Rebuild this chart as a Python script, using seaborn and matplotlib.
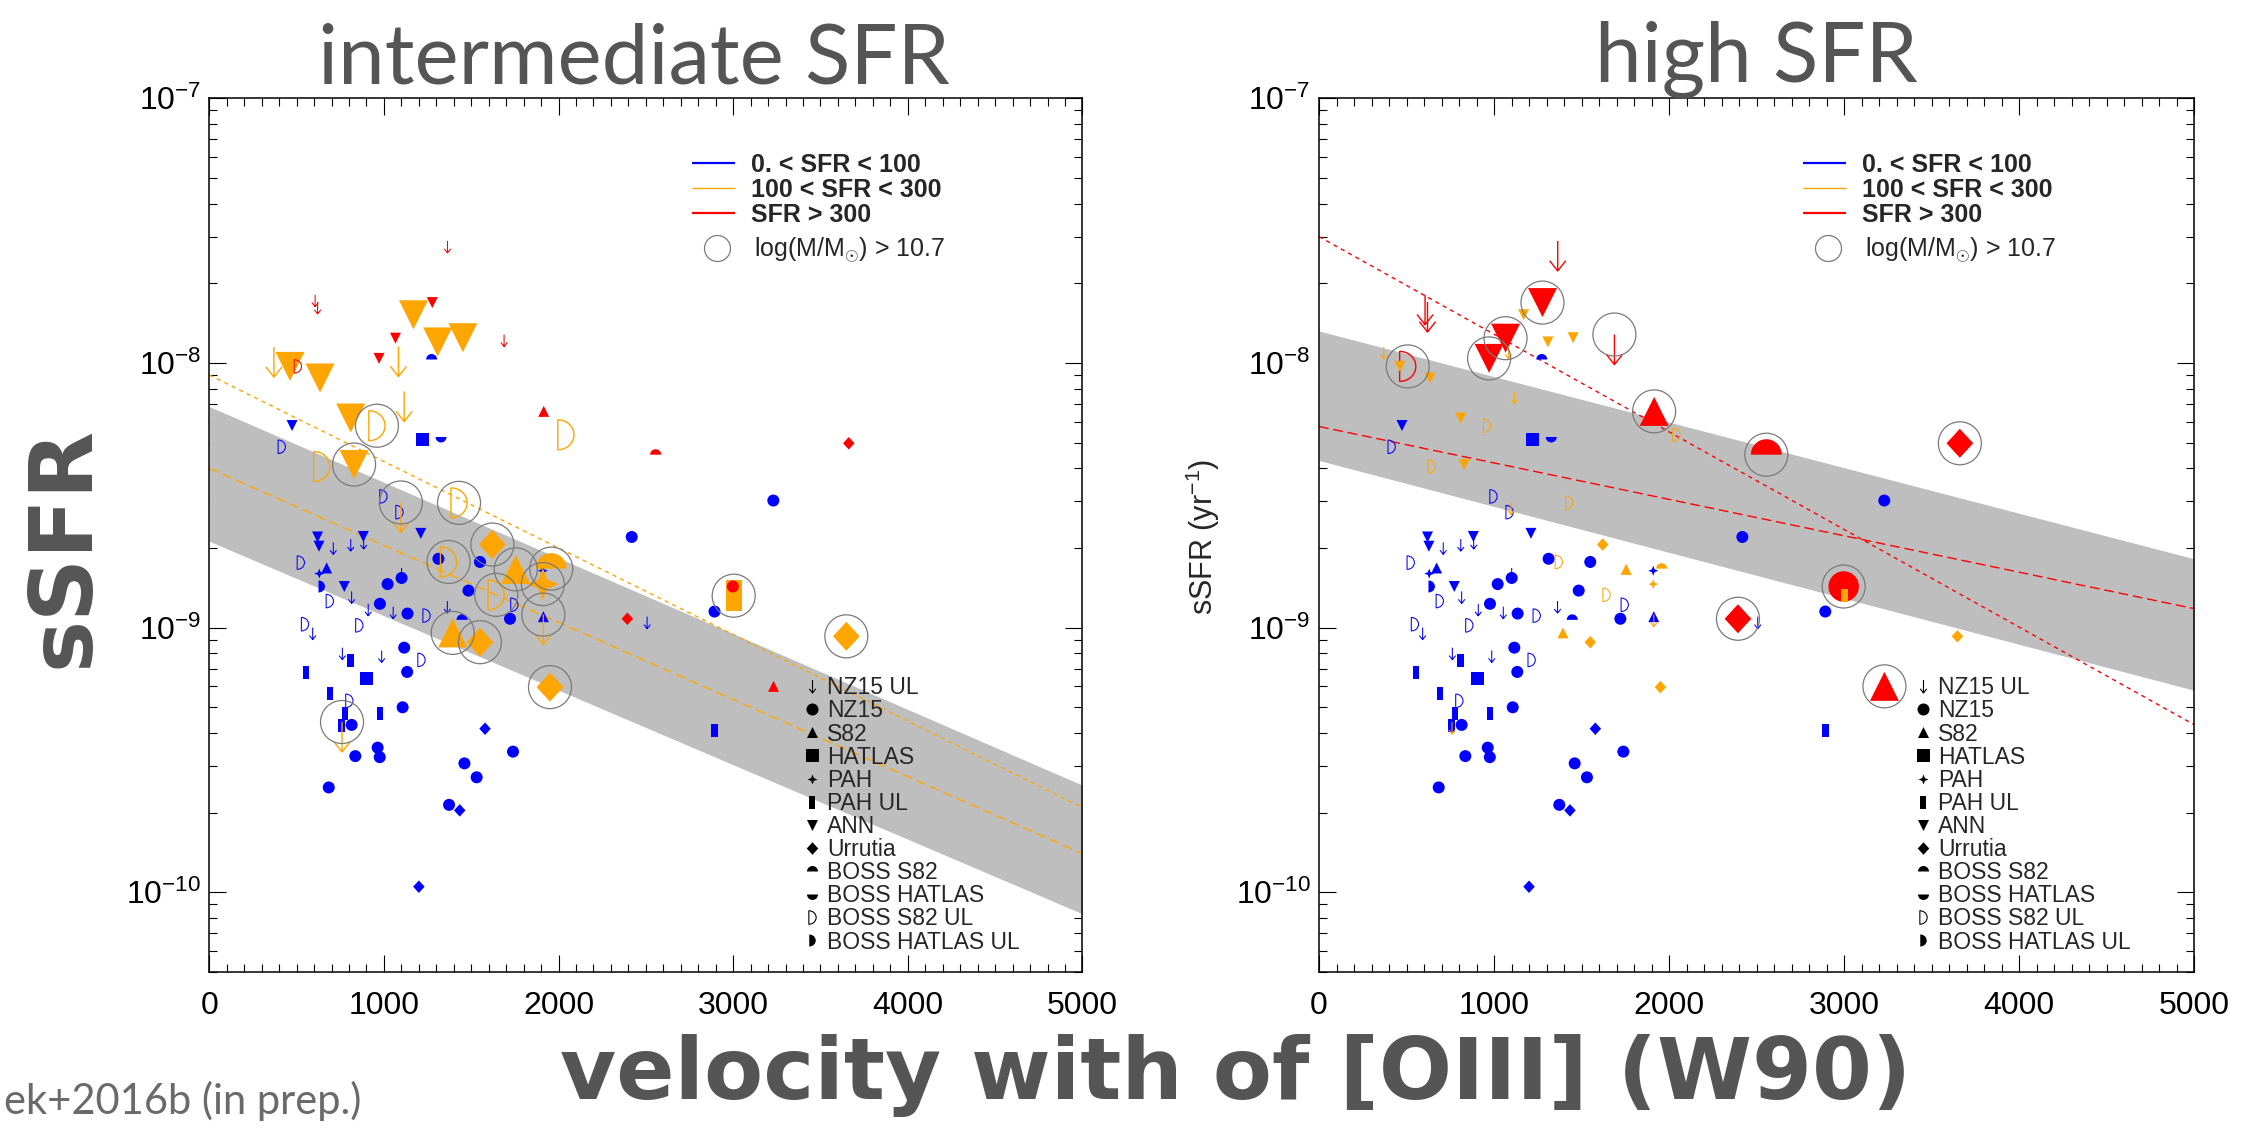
import numpy as np
import pandas as pd
import matplotlib
matplotlib.use("Agg")
import matplotlib.pyplot as plt
import seaborn as sns
from matplotlib.path import Path
from matplotlib.ticker import MultipleLocator, LogLocator, NullFormatter

# ------------------------------------------------------------------ data
# blue: 0 < SFR < 100 (same in both panels, always small)
blue_type = (["ANN"] * 6 + ["BOSSS82UL"] * 11 + ["HATLAS"] * 2 + ["BOSSS82"] * 2 +
             ["BOSSHATLAS"] + ["NZ15"] * 23 + ["NZ15UL"] * 12 + ["S82"] * 2 +
             ["PAH"] * 2 + ["BOSSHATLASUL"] + ["PAHUL"] * 7 + ["Urrutia"] * 3)
blue_w90 = [474, 620, 628, 882, 1211, 773,
            415, 997, 1089, 1747, 524, 690, 1244, 548, 859, 1215, 802,
            1222, 903,
            1273, 1447,
            1327,
            2419, 1312, 1550, 1484, 1722, 1021, 1101, 977, 1135, 1116, 1133, 1107,
            815, 964, 976, 836, 684, 1739, 1461, 1531, 1373, 2893, 3230,
            710, 810, 884, 815, 1101, 910, 1053, 1363, 592, 762, 987, 2507,
            672, 1913,
            630, 1910,
            644,
            810, 554, 691, 777, 977, 758, 2893,
            1579, 1434, 1200]
blue_ssfr = [5.8e-9, 2.2e-9, 2.03e-9, 2.21e-9, 2.27e-9, 1.43e-9,
             4.82e-9, 3.13e-9, 2.73e-9, 1.22e-9, 1.76e-9, 1.26e-9, 1.11e-9, 1.03e-9, 1.02e-9, 7.55e-10, 5.29e-10,
             5.13e-9, 6.42e-10,
             1.03e-8, 1.07e-9,
             5.25e-9,
             2.2e-9, 1.82e-9, 1.77e-9, 1.38e-9, 1.08e-9, 1.46e-9, 1.54e-9, 1.23e-9, 1.13e-9, 8.4e-10, 6.8e-10, 5.0e-10,
             4.29e-10, 3.52e-10, 3.24e-10, 3.27e-10, 2.49e-10, 3.4e-10, 3.07e-10, 2.72e-10, 2.14e-10, 1.15e-9, 3.02e-9,
             2.1e-9, 2.16e-9, 2.2e-9, 1.37e-9, 1.68e-9, 1.23e-9, 1.2e-9, 1.26e-9, 1.0e-9, 8.4e-10, 8.2e-10, 1.1e-9,
             1.68e-9, 1.1e-9,
             1.6e-9, 1.64e-9,
             1.43e-9,
             7.5e-10, 6.76e-10, 5.65e-10, 4.75e-10, 4.75e-10, 4.25e-10, 4.09e-10,
             4.15e-10, 2.04e-10, 1.05e-10]

# orange: 100 < SFR < 300
orange_type = ["NZ15UL", "ANN", "ANN", "ANN", "ANN", "ANN", "NZ15UL", "NZ15UL", "ANN", "ANN",
               "BOSSS82UL", "BOSSS82UL", "BOSSS82UL", "BOSSS82UL", "NZ15UL", "Urrutia", "BOSSS82UL",
               "S82", "BOSSS82", "PAH", "BOSSS82UL", "NZ15UL", "S82", "Urrutia", "Urrutia",
               "NZ15UL", "PAHUL", "Urrutia"]
orange_w90 = [370, 462, 634, 1169, 1308, 1452, 1083, 1116, 810, 829,
              960, 644, 2042, 1430, 1097, 1621, 1370,
              1755, 1958, 1910, 1643, 1913, 1394, 1550, 1951,
              760, 3003, 3648]
orange_ssfr = [1.148e-8, 9.7e-9, 8.77e-9, 1.52e-8, 1.20e-8, 1.245e-8, 1.153e-8, 7.8e-9, 6.19e-9, 4.13e-9,
               5.79e-9, 4.06e-9, 5.35e-9, 2.96e-9, 2.97e-9, 2.06e-9, 1.77e-9,
               1.66e-9, 1.67e-9, 1.46e-9, 1.33e-9, 1.12e-9, 9.55e-10, 8.81e-10, 5.96e-10,
               4.4e-10, 1.32e-9, 9.27e-10]
orange_massive = [0, 0, 0, 0, 0, 0, 0, 0, 0, 1,
                  1, 0, 0, 1, 1, 1, 1,
                  1, 1, 1, 1, 1, 1, 1, 1,
                  1, 1, 1]

# red: SFR > 300
red_type = ["NZ15UL", "NZ15UL", "NZ15UL", "ANN", "ANN", "ANN", "BOSSS82UL", "NZ15UL",
            "S82", "BOSSS82", "Urrutia", "NZ15", "Urrutia", "S82"]
red_w90 = [1364, 606, 620, 1277, 1066, 972, 507, 1688, 1915, 2556, 3662, 2998, 2394, 3231]
red_ssfr = [2.89e-8, 1.81e-8, 1.70e-8, 1.69e-8, 1.24e-8, 1.04e-8, 9.7e-9, 1.28e-8,
            6.56e-9, 4.5e-9, 4.97e-9, 1.43e-9, 1.08e-9, 6.0e-10]
red_massive = [0, 0, 0, 1, 1, 1, 1, 1, 1, 1, 1, 1, 1, 1]

# relations (end points at W90 = 0 and 5000)
fit_w90 = [0, 5000]
left_band_lo = [2.12e-9, 8.3e-11]
left_band_hi = [6.84e-9, 2.54e-10]
left_fit_upper = [9.0e-9, 2.09e-10]
left_fit_lower = [4.0e-9, 1.40e-10]
right_band_lo = [4.28e-9, 5.8e-10]
right_band_hi = [1.32e-8, 1.82e-9]
right_fit_steep = [3.0e-8, 4.3e-10]
right_fit_flat = [5.75e-9, 1.18e-9]

x_ticks = [0, 1000, 2000, 3000, 4000, 5000]
legend_sfr = ["0. < SFR < 100", "100 < SFR < 300", "SFR > 300"]
legend_types = ["NZ15UL", "NZ15", "S82", "HATLAS", "PAH", "PAHUL", "ANN", "Urrutia",
                "BOSSS82", "BOSSHATLAS", "BOSSS82UL", "BOSSHATLASUL"]
legend_names = ["NZ15 UL", "NZ15", "S82", "HATLAS", "PAH", "PAH UL", "ANN", "Urrutia",
                "BOSS S82", "BOSS HATLAS", "BOSS S82 UL", "BOSS HATLAS UL"]

# ------------------------------------------------------------------ style
sns.set_style("ticks")
plt.rcParams["font.family"] = ["Liberation Sans", "DejaVu Sans"]
plt.rcParams["mathtext.fontset"] = "custom"
plt.rcParams["mathtext.rm"] = "Liberation Sans"
plt.rcParams["mathtext.it"] = "Liberation Sans:italic"
plt.rcParams["mathtext.bf"] = "Liberation Sans:bold"
plt.rcParams["axes.edgecolor"] = "black"
plt.rcParams["xtick.color"] = "black"
plt.rcParams["ytick.color"] = "black"

BLUE, ORANGE, RED = "#0000ff", "#ffa500", "#ff0000"
GRAYTXT = "#555555"
PX = 0.72  # points per pixel at dpi 100

M, L, C = Path.MOVETO, Path.LINETO, Path.CLOSEPOLY


def closed(verts):
    return Path(verts + [verts[0]], [M] + [L] * (len(verts) - 1) + [C])


def arc_path(t1, t2, sx=1.0, dx=0.0):
    a = Path.arc(t1, t2)
    v = a.vertices.copy()
    v[:, 0] = v[:, 0] * sx + dx
    return Path(np.vstack([v, v[:1]]), np.concatenate([a.codes, [C]]))


ARROW_TOP = Path([(0, 0), (0, -1), (-0.27, -0.66), (0, -1), (0.27, -0.66)], [M, L, M, L, L])
ARROW_MID = Path([(0, 1), (0, -1), (-0.5, -0.36), (0, -1), (0.5, -0.36)], [M, L, M, L, L])
MARKERS = {
    "NZ15UL": ARROW_TOP,
    "NZ15": Path.unit_circle(),
    "S82": closed([(0, 1), (-1, -1), (1, -1)]),
    "HATLAS": closed([(-1, -1), (1, -1), (1, 1), (-1, 1)]),
    "PAH": closed([(0, 1), (0.28, 0.28), (1, 0), (0.28, -0.28), (0, -1), (-0.28, -0.28), (-1, 0), (-0.28, 0.28)]),
    "PAHUL": closed([(-0.52, -1), (0.52, -1), (0.52, 1), (-0.52, 1)]),
    "ANN": closed([(0, -1), (-1, 1), (1, 1)]),
    "Urrutia": closed([(0, 1), (0.92, 0), (0, -1), (-0.92, 0)]),
    "BOSSS82": arc_path(0, 180),
    "BOSSHATLAS": arc_path(180, 360),
    "BOSSS82UL": arc_path(-90, 90, 1.08, -0.54),
    "BOSSHATLASUL": arc_path(-90, 90, 1.08, -0.54),
}
LINE_ART = {"NZ15UL", "BOSSS82UL"}
SMALL_PX = dict(NZ15UL=24, NZ15=12, S82=11, HATLAS=13, PAH=10, PAHUL=13, ANN=11, Urrutia=12.5,
                BOSSS82=11, BOSSHATLAS=11, BOSSS82UL=13.5, BOSSHATLASUL=12)
BIG_PX = dict(NZ15UL=60, NZ15=30.5, S82=29, HATLAS=30, PAH=32, PAHUL=31, ANN=29, Urrutia=29,
              BOSSS82=31, BOSSHATLAS=31, BOSSS82UL=30, BOSSHATLASUL=30)


def draw_points(ax, xs, ys, types, color, size_map, lw, z):
    df = pd.DataFrame(dict(x=xs, y=ys, t=types))
    for t, g in df.groupby("t", sort=False):
        kw = dict(marker=MARKERS[t], s=(size_map[t] * PX) ** 2, color=color)
        if t in LINE_ART:
            kw.update(facecolor="none", edgecolor=color, linewidth=lw)
        else:
            kw.update(edgecolor="none", linewidth=0)
        sns.scatterplot(x=g["x"].to_numpy(), y=g["y"].to_numpy(), ax=ax, legend=False,
                        zorder=z, **kw)


def draw_rings(ax, xs, ys, massive):
    df = pd.DataFrame(dict(x=xs, y=ys, m=massive))
    df = df[df["m"] == 1]
    sns.scatterplot(x=df["x"].to_numpy(), y=df["y"].to_numpy(), ax=ax, legend=False,
                    marker="o", s=(43 * PX) ** 2, facecolor="none", edgecolor="#7a7a7a",
                    linewidth=0.9, color="#7a7a7a", zorder=6)


def setup_axes(ax):
    ax.set_xscale("linear")
    ax.set_yscale("log")
    ax.set_xlim(0, 5000)
    ax.set_ylim(5e-11, 1e-7)
    ax.set_xticks(x_ticks)
    ax.xaxis.set_minor_locator(MultipleLocator(100))
    ax.yaxis.set_major_locator(LogLocator(base=10, numticks=10))
    ax.yaxis.set_minor_locator(LogLocator(base=10, subs=np.arange(2, 10), numticks=40))
    ax.yaxis.set_minor_formatter(NullFormatter())
    ax.tick_params(which="both", direction="in", top=True, right=True, width=0.8, color="black")
    ax.tick_params(which="major", length=12.2)
    ax.tick_params(which="minor", length=6.1)
    ax.tick_params(axis="x", which="major", pad=14, labelsize=23)
    ax.tick_params(axis="y", which="major", pad=6, labelsize=23)
    for sp in ax.spines.values():
        sp.set_linewidth(1.1)
        sp.set_color("black")
    ax.set_xlabel("")
    ax.set_ylabel("")


def draw_legends(ax):
    tr = ax.transAxes
    rows = [0.9264, 0.8968, 0.8686]
    for lab, col, lw, yy in zip(legend_sfr, [BLUE, ORANGE, RED], [1.6, 1.0, 1.6], rows):
        ax.plot([0.5526, 0.6019], [yy, yy], color=col, lw=lw, transform=tr, solid_capstyle="butt")
        ax.text(0.620, yy - 0.0103, lab, transform=tr, fontsize=18, fontweight="bold",
                va="baseline", ha="left")
    ax.plot([0.5813], [0.8281], marker="o", ms=26 * PX, mfc="none", mec="#7a7a7a", mew=0.9,
            transform=tr, ls="none")
    ax.text(0.6239, 0.8281 - 0.0103, r"log(M/M$_{\odot}$) > 10.7", transform=tr, fontsize=18,
            va="baseline", ha="left")
    for i, (t, name) in enumerate(zip(legend_types, legend_names)):
        yy = 0.3271 - i * 0.02644
        mk = ARROW_MID if t == "NZ15UL" else MARKERS[t]
        sz = 13 if t == "NZ15UL" else SMALL_PX[t]
        if t in LINE_ART:
            ax.plot([0.690], [yy], marker=mk, ms=sz * PX, mfc="none", mec="black", mew=0.8,
                    transform=tr, ls="none")
        else:
            ax.plot([0.690], [yy], marker=mk, ms=sz * PX, mfc="black", mec="none", mew=0,
                    transform=tr, ls="none")
        ax.text(0.7075, yy - 0.0094, name, transform=tr, fontsize=16.5, va="baseline", ha="left")


fig = plt.figure(figsize=(22.47, 11.32), dpi=100)
axL = fig.add_axes([0.09315, 0.14134, 0.38857, 0.77191])
axR = fig.add_axes([0.58701, 0.14134, 0.38941, 0.77191])

TITLE_FONT = dict(fontsize=60, family=["Lato", "DejaVu Sans"], fontweight="normal", color=GRAYTXT)

# ---------------- left panel: intermediate SFR
setup_axes(axL)
axL.fill_between(fit_w90, left_band_lo, left_band_hi, color="#bebebe", lw=0, zorder=1)
sns.lineplot(x=fit_w90, y=left_fit_upper, ax=axL, color=ORANGE, lw=1.0, zorder=2)
axL.get_lines()[-1].set_dashes((3, 3))
sns.lineplot(x=fit_w90, y=left_fit_lower, ax=axL, color=ORANGE, lw=1.0, zorder=2)
axL.get_lines()[-1].set_dashes((7, 3.5))
draw_points(axL, blue_w90, blue_ssfr, blue_type, BLUE, SMALL_PX, 0.75, 3)
draw_points(axL, orange_w90, orange_ssfr, orange_type, ORANGE, BIG_PX, 1.0, 4)
draw_points(axL, red_w90, red_ssfr, red_type, RED, SMALL_PX, 0.75, 5)
draw_rings(axL, orange_w90, orange_ssfr, orange_massive)
setup_axes(axL)
draw_legends(axL)
axL.set_title("intermediate SFR", pad=10.8, x=0.4865, **TITLE_FONT)

# ---------------- right panel: high SFR
setup_axes(axR)
axR.fill_between(fit_w90, right_band_lo, right_band_hi, color="#bebebe", lw=0, zorder=1)
sns.lineplot(x=fit_w90, y=right_fit_steep, ax=axR, color=RED, lw=1.0, zorder=2)
axR.get_lines()[-1].set_dashes((3, 3))
sns.lineplot(x=fit_w90, y=right_fit_flat, ax=axR, color=RED, lw=1.0, zorder=2)
axR.get_lines()[-1].set_dashes((7, 3.5))
draw_points(axR, blue_w90, blue_ssfr, blue_type, BLUE, SMALL_PX, 0.75, 3)
draw_points(axR, red_w90, red_ssfr, red_type, RED, BIG_PX, 1.0, 4)
draw_points(axR, orange_w90, orange_ssfr, orange_type, ORANGE, SMALL_PX, 0.75, 5)
draw_rings(axR, red_w90, red_ssfr, red_massive)
setup_axes(axR)
draw_legends(axR)
axR.set_title("high SFR", pad=10.8, **TITLE_FONT)

# ---------------- figure texts
fig.text(64.5 / 2247, 1 - 547 / 1132, "sSFR", rotation=90, ha="center", va="center",
         fontsize=63, fontweight="bold", color=GRAYTXT, family=["DejaVu Sans"])
fig.text(1203 / 2247, 1 - 536.7 / 1132, r"sSFR (yr$^{-1}$)", rotation=90, ha="center",
         va="center", fontsize=22)
fig.text(1236 / 2247, 1 - 1099 / 1132, "velocity with of [OIII] (W90)", ha="center",
         va="baseline", fontsize=62, fontweight="bold", color=GRAYTXT, family=["DejaVu Sans"])
fig.text(0.002, 1 - 1114 / 1132, "ek+2016b (in prep.)", ha="left", va="baseline",
         fontsize=30, fontweight="normal", color="#6a6a6a", family=["Lato", "DejaVu Sans"])

fig.savefig("out.png", dpi=100)
